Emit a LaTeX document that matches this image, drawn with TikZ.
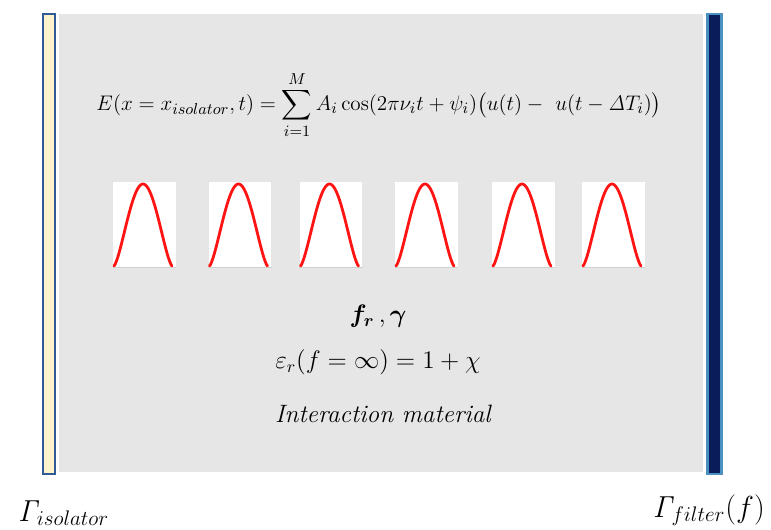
\documentclass[tikz,border=0pt]{standalone}
\usepackage{amsmath}
\usepackage{xcolor}
\usetikzlibrary{positioning}
\definecolor{Cream}{HTML}{FFF2CC}
\definecolor{EdgeBlue}{HTML}{2F5A96}
\definecolor{Navy}{HTML}{0B1C5A}
\definecolor{SkyEdge}{HTML}{4A90C0}
\definecolor{Slab}{HTML}{E6E6E6}
\definecolor{Pulse}{HTML}{FF1414}
\definecolor{Baseline}{HTML}{D0D0D0}
\tikzset{isowall/.style={rectangle,draw=EdgeBlue,line width=1.4pt,fill=Cream,minimum width=0.24cm,minimum height=9.2cm,inner sep=0pt},filterwall/.style={rectangle,draw=SkyEdge,line width=1.4pt,fill=Navy,minimum width=0.28cm,minimum height=9.2cm,inner sep=0pt},slab/.style={rectangle,fill=Slab,minimum width=12.88cm,minimum height=9.16cm,inner sep=0pt},pulsebox/.style={rectangle,fill=white,minimum width=1.26cm,minimum height=1.7cm,inner sep=0pt},label/.style={text=black,font=\fontsize{14.3}{17}\selectfont}}
\begin{document}
\begin{tikzpicture}[x=0.02cm,y=-0.02cm]
\useasboundingbox (0,0) rectangle (771,530);
\node[slab] (material) at (381,243) {};
\node[isowall] (isolator) at (49,244) {};\node[filterwall] (filter) at (714.5,244) {};
\node[label,font=\fontsize{13.2}{15}\selectfont] (source) at (379,105) {$E(x=x_{isolator},t)=\displaystyle\sum_{i=1}^{M}A_i\cos(2\pi\nu_i t+\psi_i)\bigl(u(t)-\ u(t-\mathit{\Delta}T_i)\bigr)$};
\foreach \cx [count=\k] in {144.5,240,331,426.5,523.5,613.5}{
\node[pulsebox] (pulse\k) at (\cx,224.5) {};
\draw[Baseline,line width=0.6pt] (pulse\k.south west)--(pulse\k.south east);
\draw[Pulse,line width=1.6pt,line cap=round] plot[domain=0:1,samples=50] ({\cx-30.5+58*\x},{266-82*(sin(180*\x))^1.4});}
\node[label] (params) at (378,316) {$\boldsymbol{f_r}\,,\boldsymbol{\gamma}$};
\node[label] (permit) at (378,362) {$\varepsilon_r(f=\infty)=1+\chi$};
\node[label] (name) at (383,414) {\itshape Interaction material};
\node[label,font=\fontsize{18}{21}\selectfont,anchor=west] (gammaiso) at (12,513) {$\mathit{\Gamma}_{isolator}$};
\node[label,font=\fontsize{18}{21}\selectfont,anchor=east] (gammafil) at (771,510) {$\mathit{\Gamma}_{filter}(f)$};
\end{tikzpicture}
\end{document}
